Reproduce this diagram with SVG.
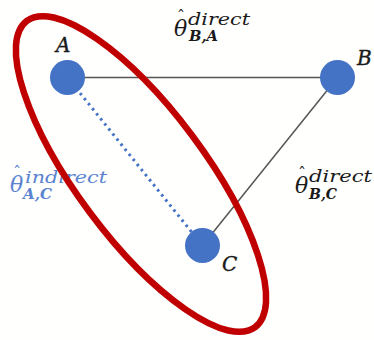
<svg xmlns="http://www.w3.org/2000/svg" width="374" height="340" viewBox="0 0 374 340">
  <style>
    .node { fill: #4472C4; }
    .lbl { font-family: "DejaVu Serif", "Liberation Serif", serif; font-style: italic; fill: #1a1a1a; }
    .nl { font-size: 20px; stroke: #1a1a1a; stroke-width: 0.4; }
    .theta { font-size: 22px; }
    .hat { font-size: 16px; font-style: normal; }
    .sup { font-size: 17px; }
    .sub { font-size: 15px; font-weight: bold; }
    .blue { fill: #5B84D0; }
    .edge { stroke: #555; stroke-width: 1.5; fill: none; }
    .dotted { stroke: #4472C4; stroke-width: 3; stroke-dasharray: 2.5 4; fill: none; }
  </style>
  <rect width="374" height="340" fill="#FFFFFE"/>
  <g id="connectors">
    <line class="edge" x1="67.5" y1="77.5" x2="337.5" y2="77.5"/>
    <line class="edge" x1="337.5" y1="77.5" x2="202.5" y2="245.5"/>
    <line class="dotted" x1="76" y1="88" x2="194" y2="235"/>
  </g>
  <g id="node-A">
    <circle class="node" cx="67.5" cy="77.5" r="17.5"/>
    <text class="lbl nl" x="56" y="52">A</text>
  </g>
  <g id="node-B">
    <circle class="node" cx="337.5" cy="77.5" r="17.5"/>
    <text class="lbl nl" x="357" y="65">B</text>
  </g>
  <g id="node-C">
    <circle class="node" cx="202.5" cy="245.5" r="17.5"/>
    <text class="lbl nl" x="222" y="271">C</text>
  </g>
  <g id="label-BA">
    <text class="lbl"><tspan class="theta" x="174" y="36">θ</tspan><tspan class="hat" x="177" y="22">ˆ</tspan><tspan class="sup" x="188" y="25" textLength="62" lengthAdjust="spacingAndGlyphs">direct</tspan><tspan class="sub" x="189" y="41" textLength="29" lengthAdjust="spacingAndGlyphs">B,A</tspan></text>
  </g>
  <g id="label-AC">
    <text class="lbl blue"><tspan class="theta" x="10" y="192">θ</tspan><tspan class="hat" x="13" y="178">ˆ</tspan><tspan class="sup" x="25" y="183" textLength="82" lengthAdjust="spacingAndGlyphs">indirect</tspan><tspan class="sub" x="23" y="199" textLength="29" lengthAdjust="spacingAndGlyphs">A,C</tspan></text>
  </g>
  <g id="label-BC">
    <text class="lbl"><tspan class="theta" x="295" y="193">θ</tspan><tspan class="hat" x="298" y="179">ˆ</tspan><tspan class="sup" x="309" y="182" textLength="63" lengthAdjust="spacingAndGlyphs">direct</tspan><tspan class="sub" x="309" y="199" textLength="28" lengthAdjust="spacingAndGlyphs">B,C</tspan></text>
  </g>
  <g id="group-ellipse">
    <ellipse cx="141" cy="174" rx="191" ry="64" transform="rotate(53.3 141 174)" fill="none" stroke="#C00000" stroke-width="6.5"/>
  </g>
</svg>
